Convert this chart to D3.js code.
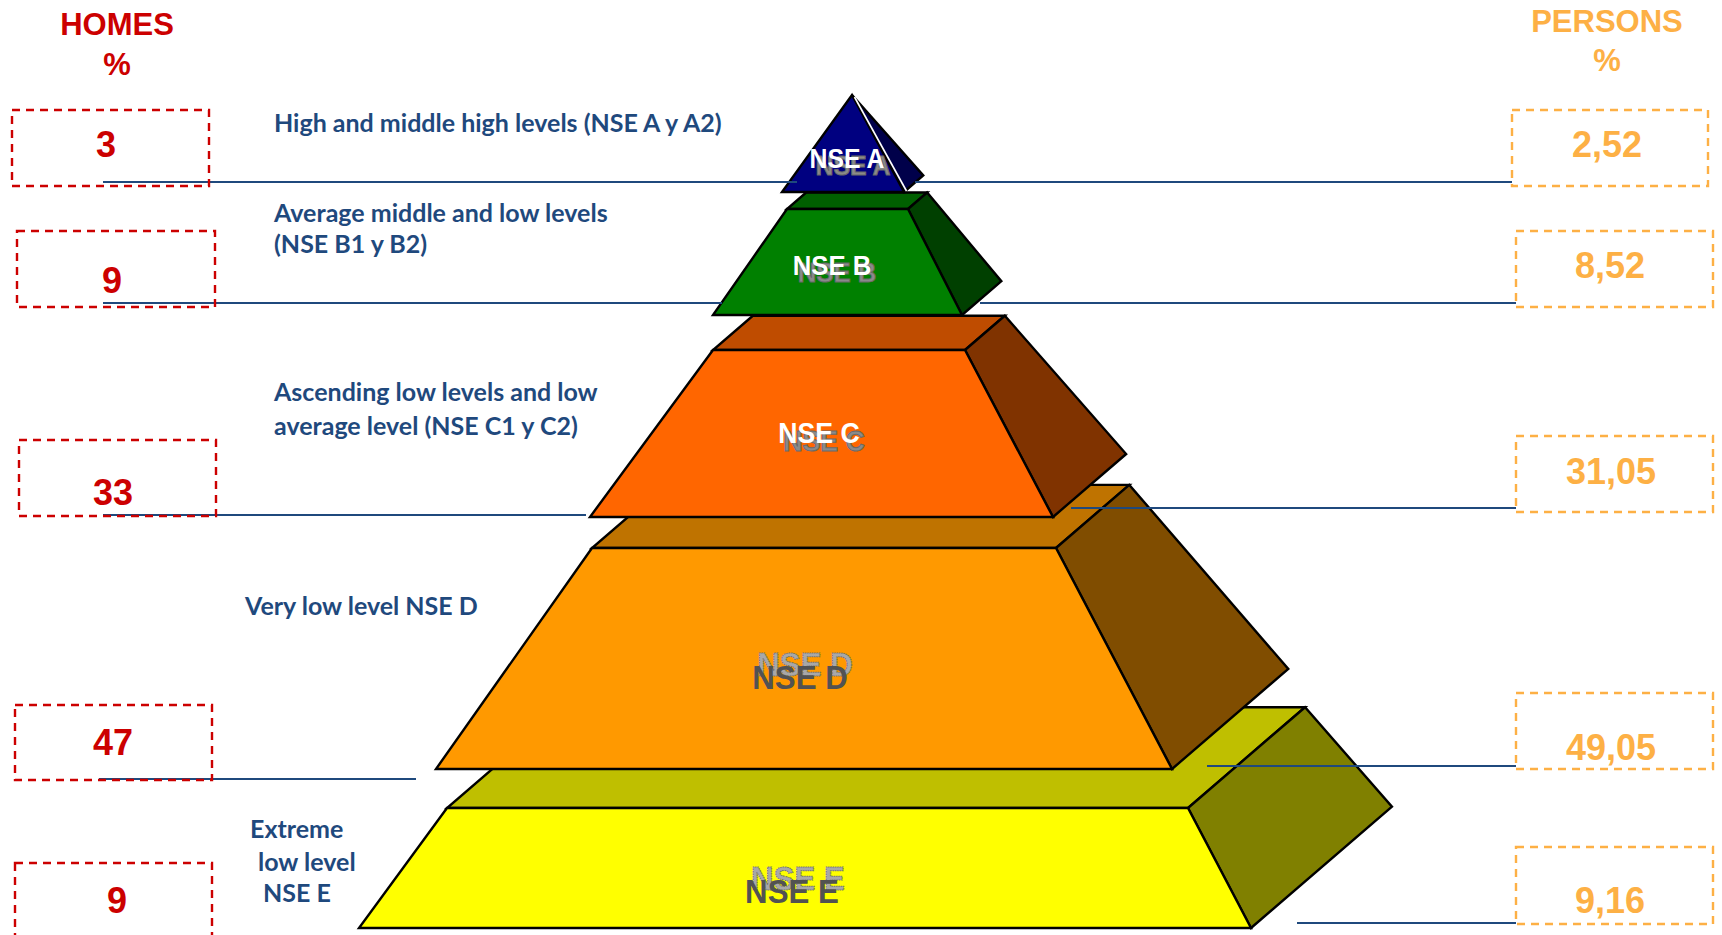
<!DOCTYPE html>
<html>
<head>
<meta charset="utf-8">
<script src="https://cdn.jsdelivr.net/npm/d3@7"></script>
<style>
  html, body { margin: 0; padding: 0; background: #ffffff; }
  svg { display: block; }
</style>
</head>
<body>
<svg id="chart" width="1722" height="935"></svg>
<script>
// ---- data -------------------------------------------------------------
const levels = ["NSE A", "NSE B", "NSE C", "NSE D", "NSE E"];
const descriptions = [
  ["High and middle high levels (NSE A y A2)"],
  ["Average middle and low levels", "(NSE B1 y B2)"],
  ["Ascending low levels and low", "average level (NSE C1 y C2)"],
  ["Very low level NSE D"],
  ["Extreme", "low level", "NSE E"]
];
const homesPct = [3, 9, 33, 47, 9];
const personsPct = [2.52, 8.52, 31.05, 49.05, 9.16];
const headers = { homes: ["HOMES", "%"], persons: ["PERSONS", "%"] };

// ---- layout -----------------------------------------------------------
// front face of each tier: top y / top-left / top-right, bottom y / bottom-left / bottom-right
const tierLayout = [
  { ty: 95,  tl: 852, tr: 852,  by: 192, bl: 782, br: 904 },
  { ty: 209, tl: 787, tr: 908,  by: 315, bl: 713, br: 962 },
  { ty: 350, tl: 713, tr: 965,  by: 517, bl: 590, br: 1053 },
  { ty: 548, tl: 592, tr: 1056, by: 769, bl: 436, br: 1172 },
  { ty: 808, tl: 447, tr: 1188, by: 928, bl: 359, br: 1251 }
];
// depth direction of the solid (per pixel of face width)
const depth = { kx: 0.158, ky: -0.136 };

const tierColors = [
  { front: "#000080", top: "#000060", side: "#00004a" },
  { front: "#008000", top: "#006000", side: "#004000" },
  { front: "#FF6600", top: "#BF4C00", side: "#803300" },
  { front: "#FF9900", top: "#BF7300", side: "#804D00" },
  { front: "#FFFF00", top: "#BFBF00", side: "#808000" }
];
const labelStyle = [
  { cx: 847, y: 168, size: 27, light: true,  dx: 6, dy: 7 },
  { cx: 832, y: 275, size: 28, light: true,  dx: 5, dy: 7 },
  { cx: 819, y: 443, size: 29, light: true,  dx: 5, dy: 8 },
  { cx: 800, y: 689, size: 34, light: false, dx: 5, dy: -13 },
  { cx: 792, y: 903, size: 34, light: false, dx: 6, dy: -13 }
];
const descLayout = [
  { x: [274], y: [132] },
  { x: [274, 274], y: [222, 253] },
  { x: [274, 274], y: [401, 435] },
  { x: [245], y: [615] },
  { x: [250, 258, 263], y: [838, 871, 902] }
];
const homesBoxes = [[12,110,197,76],[17,231,198,76],[19,440,197,76],[15,705,197,75],[15,863,197,80]];
const personsBoxes = [[1512,110,196,76],[1516,231,197,76],[1516,436,197,76],[1516,693,197,76],[1516,847,197,77]];
const homesText = [[106,157],[112,293],[113,505],[113,755],[117,913]];
const personsText = [[1607,157],[1610,278],[1611,484],[1611,760],[1610,913]];
const leftRules = [[182,103,797],[303,103,722],[515,103,586],[779,99,416]];
const rightRules = [[182,915,1512],[303,980,1516],[508,1071,1516],[766,1207,1516],[923,1297,1516]];

const RED = "#CC0000", ORANGE = "#FDB045", NAVY = "#1F497D";
const esLocale = d3.formatLocale({ decimal: ",", thousands: ".", grouping: [3], currency: ["", " €"] });
const fmtPersons = esLocale.format(".2f");
const fmtHomes = d3.format("d");

const svg = d3.select("#chart");
const poly = d3.line();

// ---- pyramid (drawn bottom tier first so upper tiers overlap) ----------
const tiers = levels.map((name, i) => {
  const g = tierLayout[i];
  const wt = g.tr - g.tl, wb = g.br - g.bl;
  const top = [[g.tl, g.ty], [g.tr, g.ty], [g.tr + depth.kx * wt, g.ty + depth.ky * wt], [g.tl + depth.kx * wt, g.ty + depth.ky * wt]];
  const side = [[g.tr, g.ty], [g.br, g.by], [g.br + depth.kx * wb, g.by + depth.ky * wb], [g.tr + depth.kx * wt, g.ty + depth.ky * wt]];
  const front = [[g.tl, g.ty], [g.tr, g.ty], [g.br, g.by], [g.bl, g.by]];
  return { name, i, top, side, front, wt };
});

const pyr = svg.append("g").attr("class", "pyramid")
  .attr("stroke", "#000").attr("stroke-width", 2.4).attr("stroke-linejoin", "miter");

tiers.slice().reverse().forEach(t => {
  const g = pyr.append("g").attr("class", "tier");
  if (t.wt > 0) {
    g.append("path").attr("d", poly(t.top) + "Z").attr("fill", tierColors[t.i].top);
  }
  g.append("path").attr("d", poly(t.side) + "Z").attr("fill", tierColors[t.i].side);
  g.append("path").attr("d", poly(t.front) + "Z").attr("fill", tierColors[t.i].front);
  if (t.wt === 0) {
    // thin highlight along the apex edge of the top block
    const a = t.front[0], b = t.front[2];
    g.append("line").attr("x1", a[0] + 2.5).attr("y1", a[1] + 2).attr("x2", b[0] + 2.5).attr("y2", b[1] - 1)
      .attr("stroke", "#ffffff").attr("stroke-width", 1.6);
  }
});

// tier names with their shadow / ghost copies
levels.forEach((name, i) => {
  const s = labelStyle[i];
  const mk = (x, y) => svg.append("text")
    .attr("transform", `translate(${x},${y}) scale(0.92,1)`)
    .attr("text-anchor", "middle")
    .attr("font-family", "'Liberation Sans', Arial, sans-serif")
    .attr("font-weight", "bold")
    .attr("font-size", s.size)
    .text(name);
  if (s.light) {
    mk(s.cx + s.dx, s.y + s.dy).attr("fill", "#8a8a8a").attr("stroke", "#6a6a6a").attr("stroke-width", 1);
    mk(s.cx, s.y).attr("fill", "#ffffff");
  } else {
    mk(s.cx + s.dx, s.y + s.dy).attr("fill", "#a8a8a8").attr("stroke", "#6e6e6e")
      .attr("stroke-width", 1).attr("stroke-dasharray", "1.5,1");
    mk(s.cx, s.y).attr("fill", "#525252");
  }
});

// ---- leader rules ------------------------------------------------------
const rules = svg.append("g").attr("stroke", NAVY).attr("stroke-width", 2.2);
leftRules.concat(rightRules).forEach(r => {
  rules.append("line").attr("x1", r[1]).attr("x2", r[2]).attr("y1", r[0]).attr("y2", r[0]);
});

// ---- descriptions ------------------------------------------------------
descriptions.forEach((lines, i) => {
  lines.forEach((ln, j) => {
    svg.append("text")
      .attr("x", descLayout[i].x[j]).attr("y", descLayout[i].y[j])
      .attr("font-family", "Lato, 'Open Sans', sans-serif")
      .attr("font-weight", "bold")
      .attr("font-size", 25)
      .attr("fill", NAVY)
      .text(ln);
  });
});

// ---- headers -----------------------------------------------------------
const header = (lines, cx, ys, color) => lines.forEach((t, j) => {
  svg.append("text").attr("x", cx).attr("y", ys[j]).attr("text-anchor", "middle")
    .attr("font-family", "'Liberation Sans', Arial, sans-serif").attr("font-weight", "bold")
    .attr("font-size", 31).attr("fill", color).text(t);
});
header(headers.homes, 117, [35, 75], RED);
header(headers.persons, 1607, [32, 71], ORANGE);

// ---- value boxes -------------------------------------------------------
const boxes = (rects, color) => rects.forEach(r => {
  svg.append("rect").attr("x", r[0]).attr("y", r[1]).attr("width", r[2]).attr("height", r[3])
    .attr("fill", "none").attr("stroke", color).attr("stroke-width", 2.4).attr("stroke-dasharray", "8,6");
});
boxes(homesBoxes, RED);
boxes(personsBoxes, ORANGE);

const values = (vals, pos, fmt, color) => vals.forEach((v, i) => {
  svg.append("text").attr("x", pos[i][0]).attr("y", pos[i][1]).attr("text-anchor", "middle")
    .attr("font-family", "'Liberation Sans', Arial, sans-serif").attr("font-weight", "bold")
    .attr("font-size", 36).attr("fill", color).text(fmt(v));
});
values(homesPct, homesText, fmtHomes, RED);
values(personsPct, personsText, fmtPersons, ORANGE);
</script>
</body>
</html>
